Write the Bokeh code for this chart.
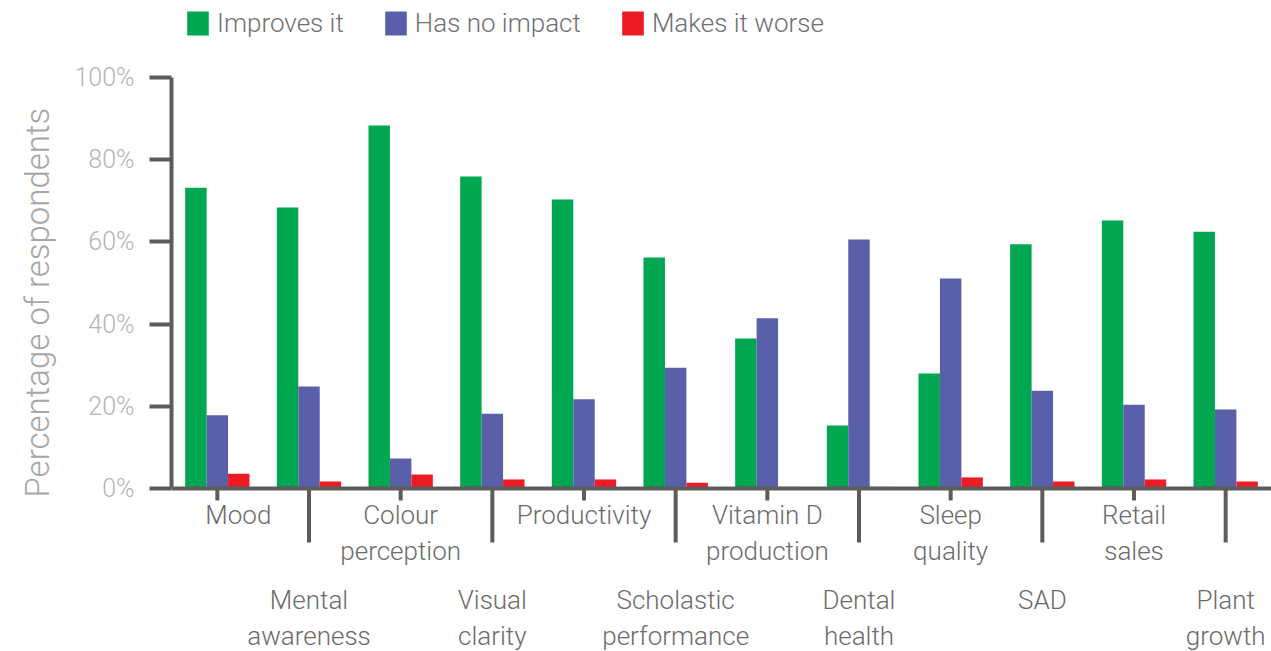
from bokeh.plotting import figure
from bokeh.models import (ColumnDataSource, FactorRange, Range1d, FixedTicker,
                          Legend, LegendItem, Span, Title)
from bokeh.core.properties import value
from bokeh.transform import dodge
from bokeh.embed import file_html
from bokeh.resources import INLINE

# --- survey data ---------------------------------------------------------
categories = ["Mood", "Mental awareness", "Colour perception", "Visual clarity",
              "Productivity", "Scholastic performance", "Vitamin D production",
              "Dental health", "Sleep quality", "SAD", "Retail sales", "Plant growth"]
category_labels = ["Mood", "Mental\nawareness", "Colour\nperception", "Visual\nclarity",
                   "Productivity", "Scholastic\nperformance", "Vitamin D\nproduction",
                   "Dental\nhealth", "Sleep\nquality", "SAD", "Retail\nsales", "Plant\ngrowth"]
improves = [73.2, 68.4, 88.3, 75.9, 70.3, 56.2, 36.5, 15.3, 28.0, 59.4, 65.2, 62.5]
no_impact = [17.8, 24.8, 7.3, 18.2, 21.7, 29.4, 41.4, 60.6, 51.1, 23.8, 20.4, 19.2]
makes_worse = [3.6, 1.7, 3.4, 2.2, 2.2, 1.4, 0.4, 0.4, 2.7, 1.7, 2.2, 1.7]
series_names = ["Improves it", "Has no impact", "Makes it worse"]
y_ticks = [0, 20, 40, 60, 80, 100]

# --- styling -------------------------------------------------------------
FONT = "Roboto Light"
COLORS = ["#00a650", "#5a5faa", "#ed1c24"]
AXIS_GREY = "#5c5c5c"
LABEL_GREY = "#6b6b6b"
TICK_GREY = "#b4b4b4"
TITLE_GREY = "#a6a6a6"
LABEL_SIZE = "26px"
BAR_W = 0.234
HEIGHT = 651
PX_PER_PCT = 4.11                 # vertical scale: 100 % spans 411 px
TOP_PAD, BASE_Y = 77, 488         # pixel rows of the 100 % and 0 % ticks
Y_FLOOR = -(HEIGHT - BASE_Y) / PX_PER_PCT    # room for the category labels
Y_CEIL = 100 + TOP_PAD / PX_PER_PCT         # room for the legend
ROW_TOPS = [-2.9, -23.4]          # the two label rows below the axis, in % units
TICK_DEPTH = [-12 / PX_PER_PCT, -54 / PX_PER_PCT]
FIRST_LABEL_NUDGE = 21            # keeps the first label clear of the y axis (px)
TITLE_START = 497                 # pixel row where the y title begins

n = len(categories)
source = ColumnDataSource(dict(cat=categories, improves=improves,
                               no_impact=no_impact, makes_worse=makes_worse))

p = figure(width=1271, height=HEIGHT,
           x_range=FactorRange(factors=categories, range_padding=0),
           y_range=Range1d(Y_FLOOR, Y_CEIL), x_axis_location=None,
           output_backend="svg", toolbar_location=None,
           min_border_left=170, min_border_right=0, min_border_top=0,
           min_border_bottom=0)
p.outline_line_color = None
p.xgrid.grid_line_color = None
p.ygrid.grid_line_color = None
p.background_fill_color = "white"
p.border_fill_color = "white"

renderers = []
for field, offset, color in zip(["improves", "no_impact", "makes_worse"],
                                [-BAR_W, 0.0, BAR_W], COLORS):
    r = p.vbar(x=dodge("cat", offset, range=p.x_range), top=field, width=BAR_W,
               source=source, fill_color=color, line_color=None)
    renderers.append(r)

# y axis, limited to the 0-100 % span
ya = p.yaxis[0]
ya.bounds = (y_ticks[0], y_ticks[-1])
ya.ticker = FixedTicker(ticks=y_ticks)
ya.major_label_overrides = {t: f"{t}%" for t in y_ticks}
ya.axis_line_width = 4
ya.axis_line_color = AXIS_GREY
ya.major_tick_line_width = 4
ya.major_tick_line_color = AXIS_GREY
ya.major_tick_out = 22
ya.major_tick_in = 0
ya.minor_tick_line_color = None
ya.major_label_standoff = 15
ya.major_label_text_font = FONT
ya.major_label_text_font_size = "25px"
ya.major_label_text_color = TICK_GREY

# axis title, starting near the baseline and reading upwards
p.add_layout(Title(text="Percentage of respondents", align="left",
                   offset=HEIGHT - TITLE_START, standoff=30,
                   text_font=FONT, text_font_size="33px",
                   text_font_style="normal", text_color=TITLE_GREY), "left")

# baseline
p.add_layout(Span(location=0, dimension="width", line_width=4, line_color=AXIS_GREY))

# category ticks: short under the upper-row labels, long between them
rows = [i % 2 for i in range(n)]
tick_src = ColumnDataSource(dict(x=categories, y0=[0] * n,
                                 y1=[TICK_DEPTH[r] for r in rows]))
p.segment(x0="x", y0="y0", x1="x", y1="y1", source=tick_src,
          line_width=4, line_color=AXIS_GREY)

# category labels, alternating between two rows
nudges = [FIRST_LABEL_NUDGE if i == 0 else 0 for i in range(n)]
lab_src = ColumnDataSource(dict(x=categories, text=category_labels, dx=nudges,
                                y=[ROW_TOPS[r] for r in rows]))
p.text(x="x", y="y", text="text", x_offset="dx", source=lab_src,
       text_align="center", text_baseline="top",
       text_font=value(FONT), text_font_size=LABEL_SIZE,
       text_color=LABEL_GREY, text_line_height=1.2)

legend = Legend(items=[LegendItem(label=s, renderers=[r]) for s, r in zip(series_names, renderers)],
                orientation="horizontal", location=(13, HEIGHT - 38),
                glyph_width=27, glyph_height=30, label_standoff=6, spacing=38,
                padding=0, margin=0, border_line_color=None, background_fill_alpha=0,
                label_text_font=FONT, label_text_font_size=LABEL_SIZE,
                label_text_color="#707070")
p.add_layout(legend, "center")

open("out.html", "w").write(file_html(p, INLINE))
